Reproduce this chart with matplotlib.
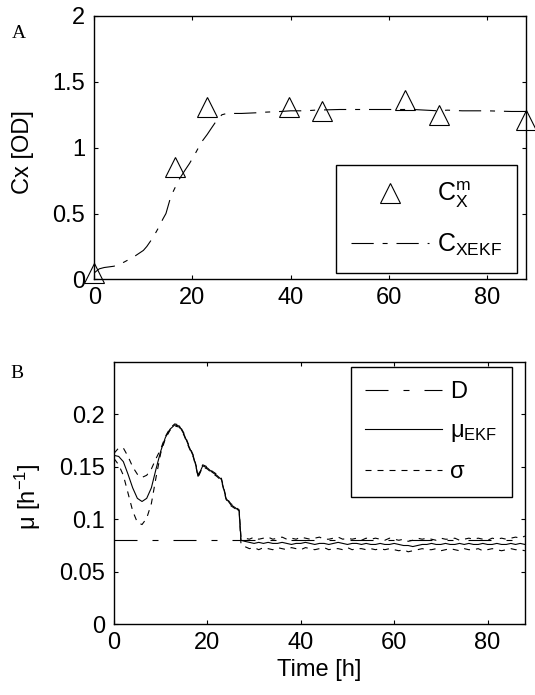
import matplotlib
matplotlib.use('agg')
import matplotlib.pyplot as plt
from matplotlib import rcParams

rcParams['font.family'] = ['Liberation Sans', 'DejaVu Sans']
rcParams['mathtext.fontset'] = 'custom'
rcParams['mathtext.rm'] = 'Liberation Sans'
rcParams['mathtext.it'] = 'Liberation Sans'
rcParams['mathtext.sf'] = 'Liberation Sans'

# --- panel A: biomass ---
t_meas = [0, 16.5, 22.9, 39.7, 46.4, 63.4, 70.3, 88]
cx_meas = [0.05, 0.85, 1.31, 1.31, 1.28, 1.36, 1.25, 1.21]

t_ekf = [0, 1, 2, 4, 6, 8, 10, 10.7, 12, 12.9, 14, 14.6, 15.6, 16.5, 17.3, 18.5,
         19.4, 20.5, 21.8, 23, 23.9, 25, 26, 27, 28, 30, 33, 35, 38, 40, 43, 45,
         50, 55, 60, 65, 70, 72, 75, 80, 85, 88]
cx_ekf = [0.05, 0.08, 0.09, 0.10, 0.13, 0.17, 0.22, 0.25, 0.32, 0.38, 0.46, 0.50,
          0.63, 0.70, 0.76, 0.83, 0.88, 0.95, 1.04, 1.10, 1.15, 1.21, 1.25, 1.26,
          1.26, 1.26, 1.265, 1.27, 1.275, 1.28, 1.28, 1.285, 1.29, 1.29, 1.29,
          1.29, 1.28, 1.285, 1.28, 1.28, 1.275, 1.275]

# --- panel B: growth rate ---
t_mu = [0, 1, 2, 3, 4, 5, 6, 7, 8, 9, 10, 11, 12, 13, 14, 15, 16, 17, 17.6, 18,
        19, 20, 21, 22, 23, 24, 25, 26, 26.8, 27.2] + list(range(28, 89))
mu = [0.161, 0.160, 0.155, 0.143, 0.130, 0.120, 0.117, 0.120, 0.130, 0.148,
      0.165, 0.178, 0.186, 0.190, 0.189, 0.181, 0.170, 0.160, 0.150, 0.141,
      0.151, 0.149, 0.145, 0.142, 0.138, 0.120, 0.114, 0.111, 0.108, 0.080,
      0.079, 0.078, 0.077, 0.078, 0.077, 0.078, 0.077, 0.077, 0.078, 0.077,
      0.076, 0.077, 0.077, 0.078, 0.077, 0.076, 0.077, 0.077, 0.076, 0.077,
      0.078, 0.077, 0.076, 0.077, 0.077, 0.076, 0.077, 0.076, 0.076, 0.077,
      0.076, 0.076, 0.077, 0.076, 0.075, 0.075, 0.074, 0.075, 0.076, 0.076,
      0.077, 0.076, 0.076, 0.077, 0.076, 0.076, 0.077, 0.076, 0.077, 0.076,
      0.076, 0.077, 0.076, 0.076, 0.077, 0.076, 0.076, 0.077, 0.076, 0.077,
      0.076]
sig_up = [0.163, 0.168, 0.168, 0.160, 0.150, 0.143, 0.140, 0.142, 0.148, 0.158,
          0.167, 0.179, 0.187, 0.191, 0.190, 0.182, 0.171, 0.161, 0.151, 0.142,
          0.152, 0.150, 0.146, 0.143, 0.139, 0.121, 0.115, 0.112, 0.109, 0.083,
          0.082, 0.081, 0.083, 0.081, 0.082, 0.083, 0.081, 0.082, 0.083, 0.081,
          0.082, 0.081, 0.083, 0.082, 0.081, 0.082, 0.083, 0.081, 0.081, 0.082,
          0.083, 0.081, 0.082, 0.081, 0.082, 0.080, 0.082, 0.081, 0.082, 0.081,
          0.080, 0.082, 0.081, 0.080, 0.081, 0.079, 0.080, 0.082, 0.081, 0.082,
          0.081, 0.080, 0.082, 0.081, 0.081, 0.082, 0.080, 0.081, 0.082, 0.081,
          0.082, 0.081, 0.080, 0.082, 0.081, 0.082, 0.081, 0.082, 0.083, 0.082,
          0.084]
sig_lo = [0.158, 0.152, 0.142, 0.125, 0.108, 0.097, 0.095, 0.101, 0.115, 0.140,
          0.163, 0.177, 0.185, 0.189, 0.188, 0.180, 0.169, 0.159, 0.149, 0.140,
          0.150, 0.148, 0.144, 0.141, 0.137, 0.119, 0.113, 0.110, 0.107, 0.076,
          0.074, 0.072, 0.073, 0.071, 0.073, 0.072, 0.071, 0.073, 0.072, 0.071,
          0.073, 0.072, 0.071, 0.073, 0.072, 0.071, 0.072, 0.073, 0.071, 0.072,
          0.072, 0.071, 0.073, 0.071, 0.072, 0.072, 0.071, 0.072, 0.071, 0.072,
          0.071, 0.072, 0.071, 0.070, 0.071, 0.069, 0.070, 0.071, 0.072, 0.071,
          0.071, 0.072, 0.070, 0.071, 0.072, 0.071, 0.070, 0.072, 0.071, 0.071,
          0.072, 0.070, 0.071, 0.072, 0.071, 0.070, 0.071, 0.072, 0.071, 0.071,
          0.070]
t_D = [0, 88]
D = [0.08, 0.08]

fig = plt.figure(figsize=(5.35, 6.95), dpi=100)
ax1 = fig.add_axes([0.1763, 0.598, 0.807, 0.379])
ax2 = fig.add_axes([0.2131, 0.102, 0.768, 0.377])

fs = 17
for ax in (ax1, ax2):
    ax.tick_params(direction='in', top=True, right=True, labelsize=fs, length=3, width=0.8)
    ax.tick_params(axis='y', pad=6.5)
    ax.tick_params(axis='x', pad=5.5)
    for s in ax.spines.values():
        s.set_linewidth(1.0)

ax1.plot(t_meas, cx_meas, linestyle='none', marker='^', markersize=14,
         markerfacecolor='none', markeredgecolor='k', markeredgewidth=0.8,
         label='C$^{\\mathrm{m}}_{\\mathrm{X}}$', clip_on=False, zorder=3)
ax1.plot(t_ekf, cx_ekf, color='k', lw=0.8, linestyle=(0, (20, 8, 4.5, 8)),
         label='C$_{\\mathrm{XEKF}}$')
ax1.set_xlim(0, 88)
ax1.set_ylim(0, 2)
ax1.set_xticks([0, 20, 40, 60, 80])
ax1.set_yticks([0, 0.5, 1, 1.5, 2])
ax1.set_yticklabels(['0', '0.5', '1', '1.5', '2'])
ax1.set_ylabel('Cx [OD]', fontsize=fs)
ax1.yaxis.set_label_coords(-0.14, 0.485)
leg1 = ax1.legend(loc='lower right', bbox_to_anchor=(0.979, 0.025), borderaxespad=0,
                  fontsize=18, frameon=True, fancybox=False, edgecolor='k', framealpha=1,
                  handlelength=3.1, handletextpad=0.32, borderpad=0.6, labelspacing=0.85)
leg1.get_frame().set_linewidth(1.0)
fig.text(0.022, 0.952, 'A', fontsize=14, family='Liberation Serif', va='center')

ax2.plot(t_D, D, color='k', lw=0.8, linestyle=(0, (20.7, 13.5, 5.4, 13.5)), label='D')
ax2.plot(t_mu, mu, color='k', lw=0.8, label='μ$_{\\mathrm{EKF}}$')
ax2.plot(t_mu, sig_up, color='k', lw=0.8, linestyle=(0, (5.4, 5.4)), label='σ')
ax2.plot(t_mu, sig_lo, color='k', lw=0.8, linestyle=(0, (5.4, 5.4)))
ax2.set_xlim(0, 88)
ax2.set_ylim(0, 0.25)
ax2.set_xticks([0, 20, 40, 60, 80])
ax2.set_yticks([0, 0.05, 0.1, 0.15, 0.2])
ax2.set_yticklabels(['0', '0.05', '0.1', '0.15', '0.2'])
ax2.set_xlabel('Time [h]', fontsize=fs)
ax2.set_ylabel('μ [h$^{\\mathrm{-1}}$]', fontsize=fs)
ax2.yaxis.set_label_coords(-0.1735, 0.485)
leg2 = ax2.legend(loc='upper right', bbox_to_anchor=(0.968, 0.981), borderaxespad=0,
                  fontsize=17, frameon=True, fancybox=False, edgecolor='k', framealpha=1,
                  handlelength=3.26, handletextpad=0.34, borderpad=0.6, labelspacing=0.72)
leg2.get_frame().set_linewidth(1.0)
fig.text(0.019, 0.462, 'B', fontsize=14, family='Liberation Serif', va='center')

fig.savefig('out.png', dpi=100)
